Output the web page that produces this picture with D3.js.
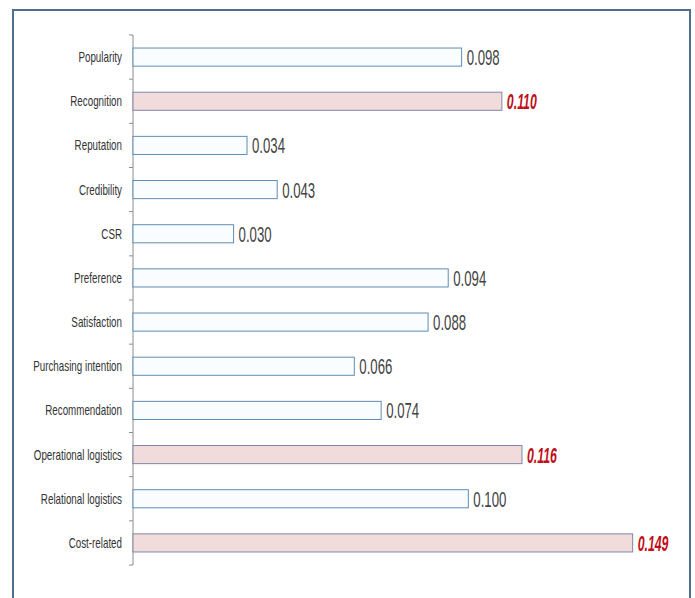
<!DOCTYPE html>
<html>
<head>
<meta charset="utf-8">
<script src="https://cdn.jsdelivr.net/npm/d3@7"></script>
<style>
  html, body { margin: 0; padding: 0; background: #fff; }
  svg { display: block; }
</style>
</head>
<body>
<svg id="chart" width="695" height="598"></svg>
<script>
// Factor weights
const categories = [
  "Popularity", "Recognition", "Reputation", "Credibility", "CSR", "Preference",
  "Satisfaction", "Purchasing intention", "Recommendation",
  "Operational logistics", "Relational logistics", "Cost-related"
];
const weights = [0.098, 0.110, 0.034, 0.043, 0.030, 0.094, 0.088, 0.066, 0.074, 0.116, 0.100, 0.149];
const highlighted = ["Recognition", "Operational logistics", "Cost-related"];

const data = categories.map((c, i) => ({ name: c, value: weights[i], hi: highlighted.includes(c) }));

const svg = d3.select("#chart");
const font = "'Liberation Sans', Arial, sans-serif";

// outer frame
svg.append("rect")
  .attr("x", 13).attr("y", 10)
  .attr("width", 677).attr("height", 600)
  .attr("fill", "#fff")
  .attr("stroke", "#4f6f8f")
  .attr("stroke-width", 2);

const x = d3.scaleLinear().domain([0, 0.15]).range([133, 636]);
const y = d3.scaleBand().domain(categories).range([35, 565]).padding(0);
const barH = y.bandwidth() * 0.41;

// category axis: vertical line with ticks at band boundaries
const axis = svg.append("g");
axis.append("line")
  .attr("x1", x(0)).attr("x2", x(0))
  .attr("y1", y.range()[0]).attr("y2", y.range()[1])
  .attr("stroke", "#8c8c8c").attr("stroke-width", 1);
const bounds = d3.range(categories.length + 1).map(i => y.range()[0] + i * y.step());
axis.selectAll("line.tick").data(bounds).join("line")
  .attr("class", "tick")
  .attr("x1", x(0) - 4).attr("x2", x(0))
  .attr("y1", d => d).attr("y2", d => d)
  .attr("stroke", "#8c8c8c");

// condensed labels: regular face squeezed horizontally
axis.selectAll("g.cat").data(data).join("g")
  .attr("class", "cat")
  .attr("transform", d => `translate(${x(0) - 11},${y(d.name) + y.bandwidth() / 2}) scale(0.7,1)`)
  .append("text")
  .attr("dy", "0.36em")
  .attr("text-anchor", "end")
  .attr("font-family", font)
  .attr("font-size", 14)
  .attr("fill", "#333")
  .text(d => d.name);

// bars
svg.selectAll("rect.bar").data(data).join("rect")
  .attr("class", "bar")
  .attr("x", x(0))
  .attr("y", d => y(d.name) + (y.bandwidth() - barH) / 2)
  .attr("width", d => x(d.value) - x(0))
  .attr("height", barH)
  .attr("fill", d => d.hi ? "#f2dcdb" : "#fafdff")
  .attr("stroke", d => d.hi ? "#7f86a8" : "#5f8db3")
  .attr("stroke-width", 1);

// value labels
svg.selectAll("g.val").data(data).join("g")
  .attr("class", "val")
  .attr("transform", d => `translate(${x(d.value) + 5},${y(d.name) + y.bandwidth() / 2}) scale(${d.hi ? 0.56 : 0.6},1)`)
  .append("text")
  .attr("dy", "0.36em")
  .attr("font-family", font)
  .attr("font-size", 22)
  .attr("font-weight", d => d.hi ? "bold" : "normal")
  .attr("font-style", d => d.hi ? "italic" : "normal")
  .attr("fill", d => d.hi ? "#c0101a" : "#444")
  .text(d => d3.format(".3f")(d.value));
</script>
</body>
</html>
